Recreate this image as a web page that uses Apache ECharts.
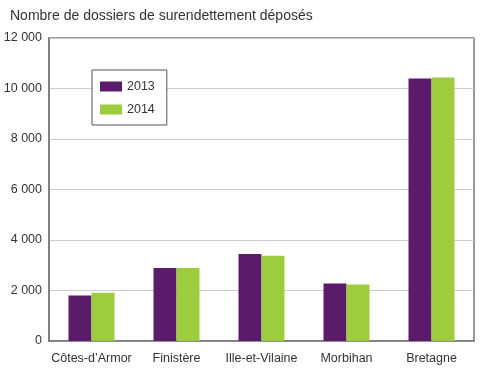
<!DOCTYPE html>
<html><head><meta charset="utf-8">
<script src="https://cdn.jsdelivr.net/npm/echarts@6/dist/echarts.min.js"></script>
<style>html,body{margin:0;padding:0;background:#fff}#c{width:480px;height:373px}</style>
</head><body><div id="c"></div>
<script>
const categories = ['Côtes-d\u2019Armor', 'Finistère', 'Ille-et-Vilaine', 'Morbihan', 'Bretagne'];
const values2013 = [1800, 2890, 3450, 2280, 10400];
const values2014 = [1910, 2890, 3380, 2240, 10440];
const seriesNames = ['2013', '2014'];
const chartTitle = 'Nombre de dossiers de surendettement déposés';

const fontFam = '"Liberation Sans", Arial, sans-serif';
const chart = echarts.init(document.getElementById('c'), null, {renderer: 'canvas'});
const fmt = v => v === 0 ? '0' : String(v).replace(/\B(?=(\d{3})+(?!\d))/g, ' ');
chart.setOption({
  animation: false,
  textStyle: {fontFamily: fontFam},
  title: {text: chartTitle, left: 5, top: 4,
    textStyle: {fontFamily: fontFam, fontSize: 14, fontWeight: 'normal', color: '#333'}},
  legend: {
    orient: 'vertical', left: 92, top: 70,
    padding: [10, 12, 9, 8], itemGap: 10, icon: 'rect',
    itemWidth: 22, itemHeight: 10,
    borderColor: '#555', borderWidth: 1, backgroundColor: '#fff',
    textStyle: {fontSize: 12.5, color: '#333', fontFamily: fontFam},
    data: seriesNames
  },
  grid: {left: 49, right: 6, top: 38, bottom: 32, show: true, borderColor: '#777', borderWidth: 1.5,
    containLabel: false, outerBoundsMode: 'none'},
  xAxis: {
    type: 'category', data: categories,
    axisLine: {show: true, lineStyle: {color: '#777', width: 1.5}},
    axisTick: {show: false},
    axisLabel: {fontSize: 12.5, color: '#333', margin: 11, interval: 0}
  },
  yAxis: {
    type: 'value', min: 0, max: 12000, interval: 2000,
    axisLine: {show: true, lineStyle: {color: '#777', width: 1.5}},
    axisTick: {show: false},
    splitLine: {lineStyle: {color: '#ccc', width: 1}},
    axisLabel: {fontSize: 12.5, color: '#333', margin: 7, formatter: fmt}
  },
  series: [
    {name: seriesNames[0], type: 'bar', data: values2013, barWidth: 23, barGap: '0%',
      itemStyle: {color: '#5c1a6b'}},
    {name: seriesNames[1], type: 'bar', data: values2014, barWidth: 23,
      itemStyle: {color: '#9dcd3f'}}
  ]
});
</script></body></html>
